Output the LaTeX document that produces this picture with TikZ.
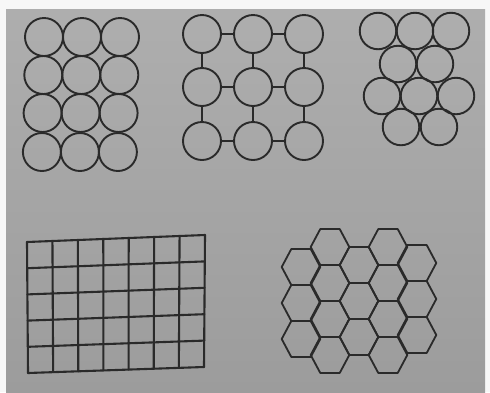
\documentclass[tikz,border=0pt]{standalone}
\usetikzlibrary{calc}
\definecolor{paperhi}{RGB}{174,174,174}
\definecolor{paperlo}{RGB}{156,156,156}
\definecolor{ink}{RGB}{42,42,42}
\tikzset{
  ring/.style={circle, draw=ink, line width=1.9pt, minimum size=#1, inner sep=0pt},
  ring/.default=38pt,
  link/.style={draw=ink, line width=1.9pt},
  gridline/.style={draw=ink, line width=2.1pt, line cap=round},
  hexline/.style={draw=ink, line width=1.8pt, line join=round},
}
\begin{document}
\begin{tikzpicture}[x=1pt,y=-1pt]
\useasboundingbox (0,0) rectangle (490,392);
\fill[white!94!gray] (0,0) rectangle (490,392);
\shade[top color=paperhi, bottom color=paperlo] (6,9) rectangle (485,392);

% ---- panel 1: square array of touching circles
\foreach \r/\y in {1/37,2/75,3/113,4/152}{
  \foreach \c/\x in {1/44,2/82,3/120}{
    \node[ring] (p\r\c) at ({\x-(\r-1)*0.7},\y) {};
  }
}

% ---- panel 2: circles joined by links
\foreach \r/\y in {1/34,2/87,3/141}{
  \foreach \c/\x in {1/202,2/253,3/304}{
    \node[ring] (q\r\c) at (\x,\y) {};
  }
}
\foreach \r in {1,2,3}{
  \draw[link] (q\r1) -- (q\r2);
  \draw[link] (q\r2) -- (q\r3);
}
\foreach \c in {1,2,3}{
  \draw[link] (q1\c) -- (q2\c);
  \draw[link] (q2\c) -- (q3\c);
}

% ---- panel 3: close-packed circles
\foreach \n/\x/\y in {a/378/31, b/415/31, c/451/31,
                      d/398/64, e/435/64,
                      f/382/96, g/419/96, h/456/96,
                      i/401/127, j/439/127}{
  \node[ring=36.5pt] (h\n) at (\x,\y) {};
}

% ---- panel 4: square grid (slightly tilted)
\coordinate (TL) at (27,242);
\coordinate (TR) at (205,235);
\coordinate (BL) at (28,373);
\coordinate (BR) at (204,367);
\foreach \i in {0,...,7}{
  \draw[gridline] ($(TL)!{\i/7}!(TR)$) -- ($(BL)!{\i/7}!(BR)$);
}
\foreach \j in {0,...,5}{
  \draw[gridline] ($(TL)!{\j/5}!(BL)$) -- ($(TR)!{\j/5}!(BR)$);
}

% ---- panel 5: hexagonal tiling
\foreach \x/\y in {
  301/267, 301/303, 301/339,
  330/247, 330/283, 330/319, 330/355,
  359/265, 359/301, 359/337,
  388/247, 388/283, 388/319, 388/355,
  417/263, 417/299, 417/335}{
  \draw[hexline, shift={(\x,\y)}]
    (-19.3,0) -- (-9.7,-18) -- (9.7,-18) -- (19.3,0) -- (9.7,18) -- (-9.7,18) -- cycle;
}
\end{tikzpicture}
\end{document}
